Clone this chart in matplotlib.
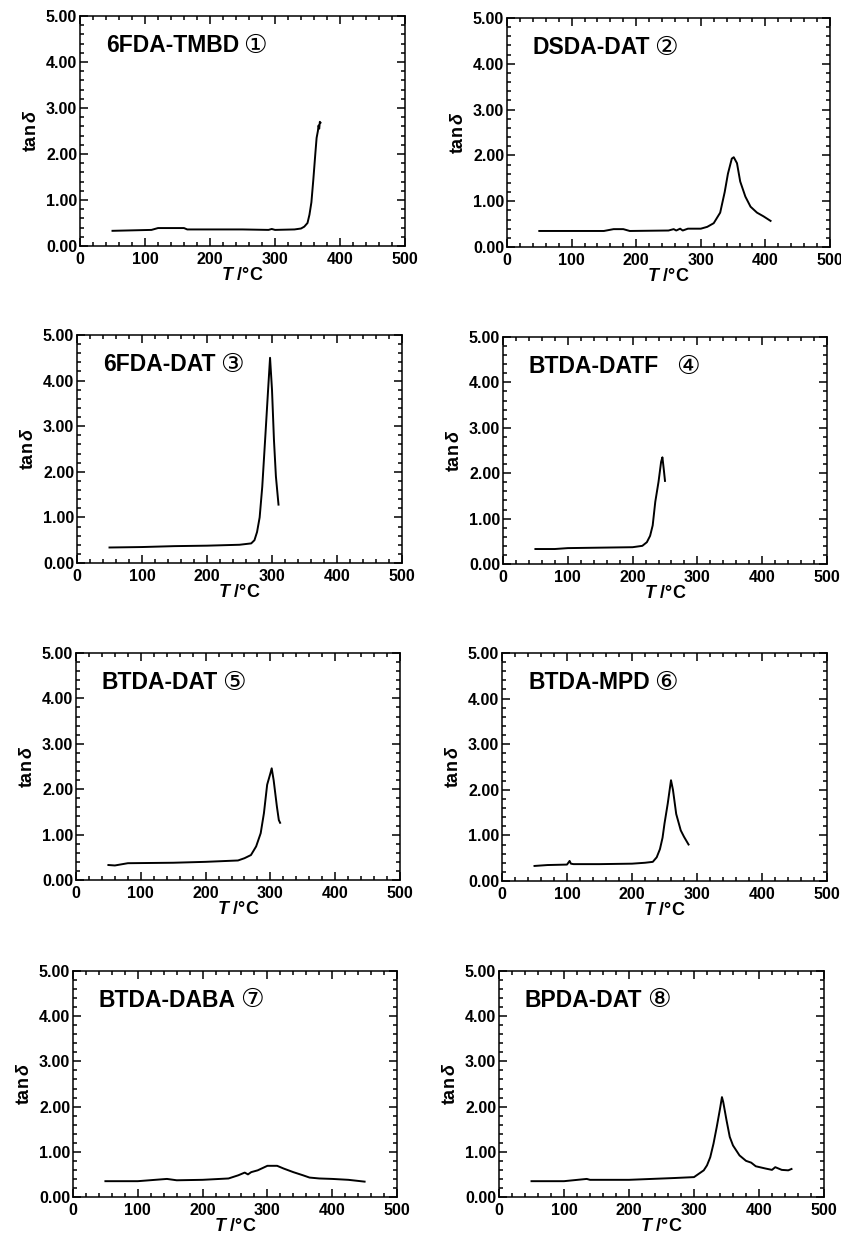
import matplotlib

matplotlib.use("Agg")
import matplotlib.pyplot as plt  # noqa: E402
from matplotlib.ticker import MultipleLocator, FormatStrFormatter  # noqa: E402

plt.rcParams.update({
    "font.family": ["Liberation Sans", "DejaVu Sans"],
    "font.weight": "bold",
    "mathtext.fontset": "custom",
    "mathtext.rm": "Liberation Sans:bold",
    "mathtext.it": "Liberation Sans:italic",
    "mathtext.bf": "Liberation Sans:bold",
    "mathtext.bfit": "Liberation Sans:bold:italic",
    "axes.linewidth": 1.1,
})

# tan delta vs temperature
NAMES = ["6FDA-TMBD", "DSDA-DAT", "6FDA-DAT", "BTDA-DATF",
         "BTDA-DAT", "BTDA-MPD", "BTDA-DABA", "BPDA-DAT"]
MARKS = ["①", "②", "③", "④", "⑤", "⑥", "⑦", "⑧"]

T1 = [50, 80, 110, 120, 140, 160, 165, 200, 250, 290, 295, 300, 330, 340, 345,
      350, 353, 356, 359, 362, 364, 366, 367, 368, 369, 370]
Y1 = [0.33, 0.34, 0.35, 0.39, 0.39, 0.39, 0.36, 0.36, 0.36, 0.35, 0.37, 0.35, 0.36,
      0.38, 0.42, 0.50, 0.68, 0.95, 1.45, 2.0, 2.35, 2.5, 2.62, 2.55, 2.7, 2.68]

T2 = [50, 100, 150, 165, 180, 190, 250, 258, 262, 268, 272, 280, 300, 310, 320,
      330, 337, 342, 348, 351, 356, 361, 369, 377, 387, 397, 408]
Y2 = [0.35, 0.35, 0.35, 0.39, 0.39, 0.35, 0.36, 0.39, 0.36, 0.40, 0.36, 0.40, 0.40,
      0.44, 0.52, 0.75, 1.2, 1.6, 1.93, 1.96, 1.83, 1.43, 1.1, 0.88, 0.75, 0.67, 0.57]

T3 = [50, 100, 150, 200, 250, 268, 273, 277, 281, 285, 290, 294, 297, 300, 303, 306, 310]
Y3 = [0.34, 0.35, 0.37, 0.38, 0.40, 0.43, 0.5, 0.68, 1.0, 1.67, 2.84, 3.8, 4.5,
      3.8, 2.7, 1.9, 1.28]

T4 = [50, 80, 100, 150, 200, 215, 222, 227, 231, 235, 240, 244, 246, 248, 250]
Y4 = [0.33, 0.33, 0.35, 0.36, 0.37, 0.40, 0.48, 0.62, 0.85, 1.37, 1.81, 2.25, 2.35,
      2.1, 1.83]

T5 = [50, 60, 80, 150, 200, 250, 260, 270, 278, 285, 290, 295, 300, 302, 305, 310,
      313, 315]
Y5 = [0.33, 0.32, 0.37, 0.38, 0.40, 0.43, 0.48, 0.55, 0.74, 1.03, 1.47, 2.1, 2.35,
      2.46, 2.2, 1.62, 1.32, 1.26]

T6 = [50, 70, 100, 104, 106, 110, 150, 200, 220, 232, 238, 243, 247, 250, 255, 260,
      263, 268, 275, 280, 287]
Y6 = [0.33, 0.35, 0.36, 0.44, 0.38, 0.37, 0.37, 0.38, 0.40, 0.42, 0.52, 0.7, 0.95,
      1.26, 1.70, 2.21, 2.0, 1.47, 1.11, 0.97, 0.80]

T7 = [50, 100, 145, 160, 200, 240, 255, 265, 270, 275, 285, 300, 315, 325, 340, 355,
      365, 380, 400, 425, 450]
Y7 = [0.35, 0.35, 0.40, 0.37, 0.38, 0.41, 0.48, 0.54, 0.50, 0.55, 0.59, 0.69, 0.69,
      0.63, 0.55, 0.48, 0.43, 0.41, 0.40, 0.38, 0.34]

T8 = [50, 100, 135, 140, 200, 270, 300, 305, 315, 320, 325, 330, 335, 340, 343, 345,
      350, 355, 360, 370, 380, 388, 395, 410, 420, 425, 435, 445, 450]
Y8 = [0.35, 0.35, 0.40, 0.38, 0.38, 0.42, 0.44, 0.49, 0.59, 0.70, 0.88, 1.18, 1.55,
      1.95, 2.21, 2.10, 1.70, 1.33, 1.14, 0.92, 0.80, 0.76, 0.68, 0.63, 0.60, 0.66,
      0.60, 0.59, 0.62]

SERIES = [(T1, Y1), (T2, Y2), (T3, Y3), (T4, Y4), (T5, Y5), (T6, Y6), (T7, Y7), (T8, Y8)]

# axes boxes in pixels: left, right, top, bottom
W, H = 841, 1241
BOXES = [(80, 405, 16, 246), (507, 830, 18, 247),
         (77, 402, 335, 563), (503, 827, 337, 564),
         (76, 400, 653, 880), (502, 827, 653, 881),
         (73, 397, 971, 1197), (499, 824, 971, 1197)]

fig = plt.figure(figsize=(W / 100, H / 100), dpi=100)

for i, ((l, r, t, b), (tx, ty)) in enumerate(zip(BOXES, SERIES)):
    ax = fig.add_axes([l / W, 1 - b / H, (r - l) / W, (b - t) / H])
    ax.plot(tx, ty, color="black", lw=1.4)
    ax.set_xlim(0, 500)
    ax.set_ylim(0, 5)
    ax.xaxis.set_major_locator(MultipleLocator(100))
    ax.xaxis.set_minor_locator(MultipleLocator(20))
    ax.yaxis.set_major_locator(MultipleLocator(1))
    ax.yaxis.set_minor_locator(MultipleLocator(0.2))
    ax.yaxis.set_major_formatter(FormatStrFormatter("%.2f"))
    ax.tick_params(which="both", direction="in", top=True, right=True, width=1.1,
                   labelsize=11.5)
    ax.tick_params(which="major", length=5.5)
    ax.tick_params(which="minor", length=3)
    ax.tick_params(axis="y", pad=2)
    ax.tick_params(axis="x", pad=4)
    for lab in ax.get_xticklabels() + ax.get_yticklabels():
        lab.set_fontweight("bold")
    ax.set_ylabel(r"$\mathbf{tan}\,\mathit{\delta}$", fontsize=13, labelpad=4)
    ax.set_xlabel(r"$\mathbfit{T}$ /°C", fontsize=13, fontweight="bold", labelpad=0)

    name = ax.text(0.08, 0.87, NAMES[i], transform=ax.transAxes, fontsize=16.5,
                   fontweight="bold", ha="left", va="center")
    gap = 12 if i == 3 else 3
    ax.annotate(MARKS[i], xy=(1, 0.5), xycoords=name, xytext=(gap, 0),
                textcoords="offset points", fontsize=19, fontweight="normal",
                ha="left", va="center",
                family=["DejaVu Sans", "Noto Sans CJK JP"])

fig.savefig("out.png", dpi=100)
